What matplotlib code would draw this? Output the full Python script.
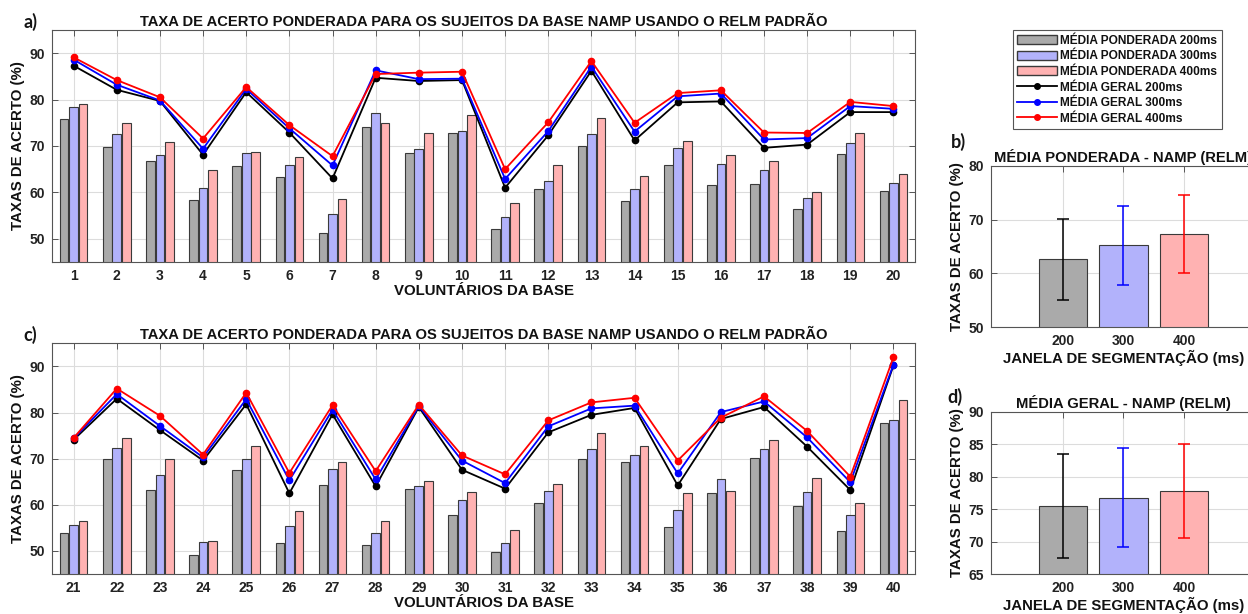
import numpy as np
import matplotlib
matplotlib.use("Agg")
import matplotlib.pyplot as plt
from matplotlib.patches import Patch
from matplotlib.lines import Line2D

# Acertos por voluntário (1-40), média ponderada e média geral por janela
pond_200 = [75.8, 69.7, 66.7, 58.3, 65.7, 63.4, 51.2, 74.1, 68.4, 72.7,
            52.2, 60.7, 69.9, 58.2, 66.0, 61.5, 61.7, 56.5, 68.2, 60.4,
            54.0, 69.9, 63.2, 49.2, 67.6, 51.7, 64.4, 51.4, 63.5, 57.7,
            49.7, 60.4, 69.9, 69.3, 55.3, 62.6, 70.1, 59.8, 54.3, 77.8]
pond_300 = [78.4, 72.6, 68.0, 61.0, 68.4, 65.8, 55.4, 77.1, 69.3, 73.2,
            54.6, 62.4, 72.6, 60.8, 69.5, 66.1, 64.9, 58.8, 70.7, 62.0,
            55.6, 72.4, 66.5, 51.9, 70.0, 55.4, 67.8, 54.0, 64.0, 61.1,
            51.8, 62.9, 72.2, 70.7, 58.9, 65.5, 72.2, 62.7, 57.7, 78.4]
pond_400 = [79.1, 75.0, 70.9, 64.8, 68.8, 67.6, 58.5, 74.9, 72.7, 76.7,
            57.8, 65.8, 76.0, 63.5, 71.0, 68.0, 66.8, 60.0, 72.9, 64.0,
            56.5, 74.4, 69.9, 52.1, 72.7, 58.6, 69.3, 56.6, 65.2, 62.7,
            54.5, 64.5, 75.5, 72.8, 62.5, 63.0, 74.1, 65.8, 60.4, 82.7]
geral_200 = [87.3, 82.1, 79.7, 68.1, 81.6, 72.9, 63.0, 84.7, 84.0, 84.2,
             61.0, 72.3, 86.2, 71.2, 79.4, 79.6, 69.6, 70.3, 77.3, 77.3,
             74.1, 83.0, 76.2, 69.6, 81.8, 62.5, 79.6, 64.0, 81.2, 67.6,
             63.5, 75.7, 79.5, 81.0, 64.2, 78.6, 81.2, 72.6, 63.2, 90.2]
geral_300 = [88.6, 83.2, 79.8, 69.4, 82.3, 73.8, 65.8, 86.3, 84.4, 84.5,
             62.9, 73.2, 87.1, 73.1, 80.7, 81.3, 71.4, 71.7, 78.6, 78.0,
             74.4, 84.0, 77.1, 70.3, 82.9, 65.3, 80.6, 65.5, 81.4, 69.6,
             64.7, 77.0, 80.9, 81.5, 66.8, 80.1, 82.4, 74.6, 64.9, 90.4]
geral_400 = [89.1, 84.2, 80.5, 71.6, 82.7, 74.5, 67.8, 85.5, 85.8, 86.0,
             65.0, 75.1, 88.3, 75.0, 81.4, 82.0, 72.9, 72.8, 79.5, 78.6,
             74.5, 85.2, 79.3, 70.9, 84.3, 66.9, 81.6, 67.3, 81.7, 70.7,
             66.6, 78.3, 82.2, 83.2, 69.6, 78.9, 83.5, 76.0, 66.1, 92.0]

# Resumo por janela de segmentação
janelas = ['200', '300', '400']
media_pond = [62.6, 65.2, 67.3]
desvio_pond = [7.6, 7.35, 7.3]
media_geral = [75.5, 76.8, 77.8]
desvio_geral = [7.95, 7.55, 7.2]

TITULO = 'TAXA DE ACERTO PONDERADA PARA OS SUJEITOS DA BASE NAMP USANDO O RELM PADRÃO'
YLABEL = 'TAXAS DE ACERTO (%)'

bar_colors = ['#aaaaaa', '#b2b2fb', '#ffb2b2']
line_colors = ['black', '#0000ff', '#ff0000']
edge = '#3a3a3a'

plt.rcParams['font.family'] = ['Liberation Sans', 'DejaVu Sans']
plt.rcParams['font.weight'] = 'bold'
plt.rcParams['axes.labelweight'] = 'bold'
plt.rcParams['axes.titleweight'] = 'bold'
plt.rcParams['text.color'] = '#111111'
plt.rcParams['axes.labelcolor'] = '#111111'

FS_TITLE = 10.6
FS_LABEL = 10.8
FS_TICK = 10


def style_axes(ax):
    ax.grid(True, color='#dcdcdc', linewidth=0.8)
    ax.set_axisbelow(True)
    for s in ax.spines.values():
        s.set_color('#555555')
        s.set_linewidth(0.8)
    ax.tick_params(direction='in', length=4, width=0.7, top=True, right=True,
                   labelsize=FS_TICK, colors='#555555', labelcolor='#222222', pad=5)


def plot_voluntarios(ax, sl):
    x = np.arange(sl.start + 1, sl.stop + 1)
    series = [pond_200, pond_300, pond_400]
    for k, vals in enumerate(series):
        ax.bar(x + (k - 1) * 0.22, vals[sl], width=0.2, color=bar_colors[k],
               edgecolor=edge, linewidth=0.8, zorder=2)
    for k, vals in enumerate([geral_200, geral_300, geral_400]):
        ax.plot(x, vals[sl], color=line_colors[k], marker='o', markersize=4.5,
                linewidth=1.3, zorder=3)
    ax.set_xlim(x[0] - 0.5, x[-1] + 0.5)
    ax.set_ylim(45, 95)
    ax.set_xticks(x)
    ax.set_yticks([50, 60, 70, 80, 90])
    style_axes(ax)
    ax.set_title(TITULO, fontsize=FS_TITLE, pad=3)
    ax.set_xlabel('VOLUNTÁRIOS DA BASE', fontsize=FS_LABEL, labelpad=1)
    ax.set_ylabel(YLABEL, fontsize=FS_LABEL, labelpad=3)


def plot_resumo(ax, medias, desvios, titulo, ylim, yticks):
    xb = np.arange(1, 4)
    ax.bar(xb, medias, width=0.8, color=bar_colors, edgecolor=edge,
           linewidth=0.8, zorder=2)
    for k in range(3):
        ax.errorbar(xb[k], medias[k], yerr=desvios[k], color=line_colors[k],
                    capsize=4, elinewidth=1.1, capthick=1.1, zorder=3)
    ax.set_xlim(-0.19, 4.19)
    ax.set_ylim(*ylim)
    ax.set_xticks(xb)
    ax.set_xticklabels(janelas)
    ax.set_yticks(yticks)
    style_axes(ax)
    ax.set_title(titulo, fontsize=FS_TITLE, pad=3)
    ax.set_xlabel('JANELA DE SEGMENTAÇÃO (ms)', fontsize=FS_LABEL, labelpad=1)
    ax.set_ylabel(YLABEL, fontsize=FS_LABEL, labelpad=3)


fig = plt.figure(figsize=(12.48, 6.14), dpi=100)

ax_a = fig.add_axes([0.0417, 0.5733, 0.6915, 0.3779])
ax_c = fig.add_axes([0.0417, 0.0651, 0.6915, 0.3757])
ax_b = fig.add_axes([0.7938, 0.4669, 0.2126, 0.2632])
ax_d = fig.add_axes([0.7938, 0.0647, 0.2126, 0.2648])

plot_voluntarios(ax_a, slice(0, 20))
plot_voluntarios(ax_c, slice(20, 40))
plot_resumo(ax_b, media_pond, desvio_pond, 'MÉDIA PONDERADA - NAMP (RELM)',
            (50, 80), [50, 60, 70, 80])
plot_resumo(ax_d, media_geral, desvio_geral, 'MÉDIA GERAL - NAMP (RELM)',
            (65, 90), [65, 70, 75, 80, 85, 90])

# Rótulos dos painéis
for txt, (px, py) in {'a)': (24, 22), 'c)': (23, 335), 'b)': (951, 142),
                      'd)': (947, 397)}.items():
    fig.text(px / 1248, 1 - py / 614, txt, fontsize=13, fontweight='bold',
             family=['Lato', 'DejaVu Sans'], va='center', ha='left',
             color='#151515')

handles = [
    Patch(facecolor=bar_colors[0], edgecolor=edge, label='MÉDIA PONDERADA 200ms'),
    Patch(facecolor=bar_colors[1], edgecolor=edge, label='MÉDIA PONDERADA 300ms'),
    Patch(facecolor=bar_colors[2], edgecolor=edge, label='MÉDIA PONDERADA 400ms'),
    Line2D([], [], color=line_colors[0], marker='o', markersize=4, lw=1.3, label='MÉDIA GERAL 200ms'),
    Line2D([], [], color=line_colors[1], marker='o', markersize=4, lw=1.3, label='MÉDIA GERAL 300ms'),
    Line2D([], [], color=line_colors[2], marker='o', markersize=4, lw=1.3, label='MÉDIA GERAL 400ms'),
]
leg = fig.legend(handles=handles, loc='upper left',
                 bbox_to_anchor=(1012.7 / 1248, 1 - 30 / 614),
                 fontsize=8.6, frameon=True, fancybox=False, framealpha=1,
                 edgecolor='#555555', handlelength=3.3, handleheight=0.8,
                 handletextpad=0.3, labelspacing=0.3, borderpad=0.4,
                 borderaxespad=0)
leg.get_frame().set_linewidth(0.8)

fig.savefig('out.png', dpi=100)
plt.close(fig)
